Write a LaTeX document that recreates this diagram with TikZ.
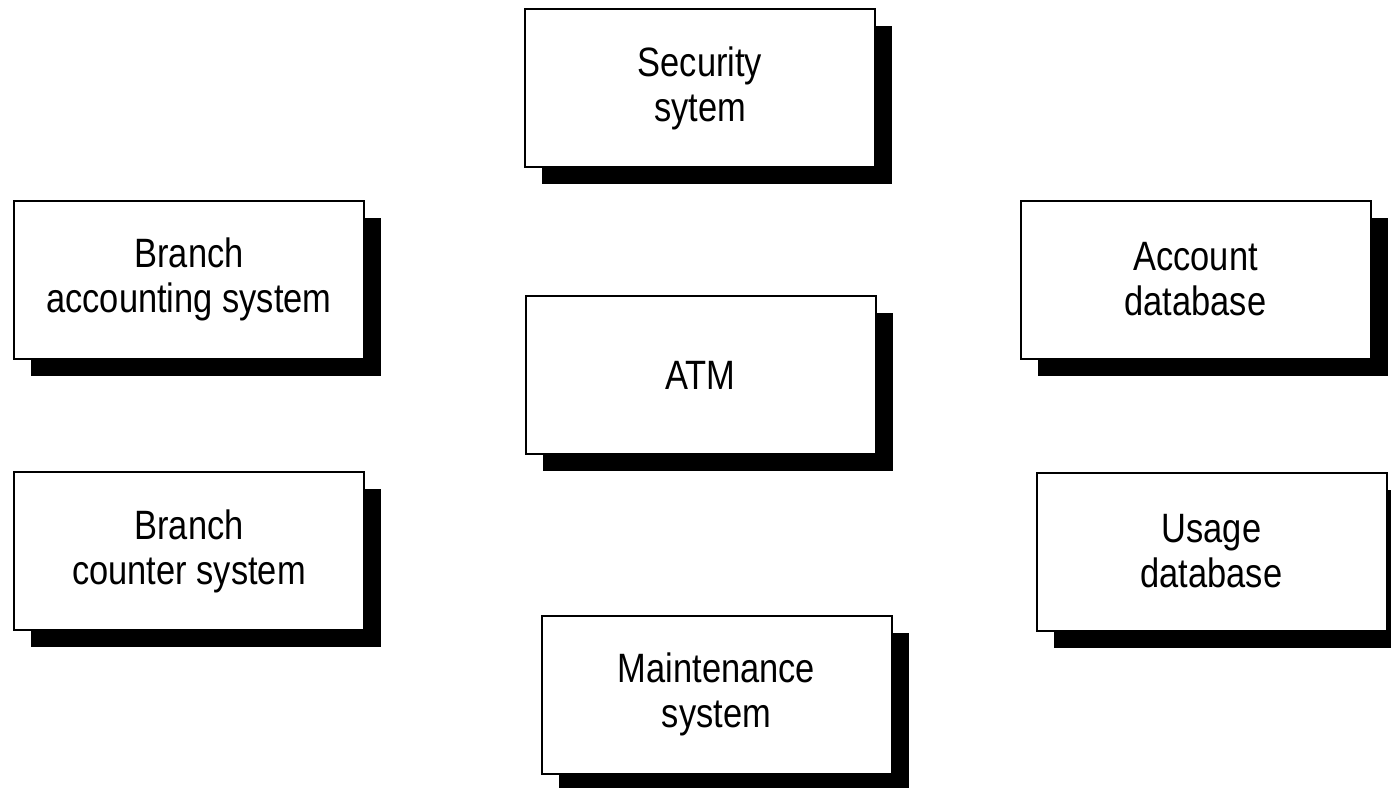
\documentclass[tikz,border=0pt]{standalone}
\usepackage{fontspec}
\setmainfont{Liberation Sans}[FakeStretch=0.84]
\usepackage{tikz}
\usetikzlibrary{shadows}

\begin{document}
\begin{tikzpicture}[x=0.5pt, y=-0.5pt,
    sysbox/.style={draw, line width=1pt, fill=white, minimum width=175pt, minimum height=79pt,
        align=center, inner sep=0pt, font=\fontsize{20.5pt}{22.5pt}\selectfont,
        drop shadow={shadow xshift=8.5pt, shadow yshift=-8.5pt, fill=black, opacity=1}}]
\useasboundingbox (0, 0) rectangle (1391, 787);

\node[sysbox] (sec) at (700, 88) {Security\\sytem};
\node[sysbox] (atm) at (700.5, 375) {\raisebox{-2.5pt}{ATM}};
\node[sysbox] (mnt) at (716.5, 694.5) {Maintenance\\system};

\node[sysbox] (bacc) at (189, 279.5) {Branch\\accounting system};
\node[sysbox] (bcnt) at (189, 551) {Branch\\counter system};

\node[sysbox] (adb) at (1195.5, 279.5) {Account\\database};
\node[sysbox] (udb) at (1211.5, 551.5) {Usage\\database};
\end{tikzpicture}
\end{document}
